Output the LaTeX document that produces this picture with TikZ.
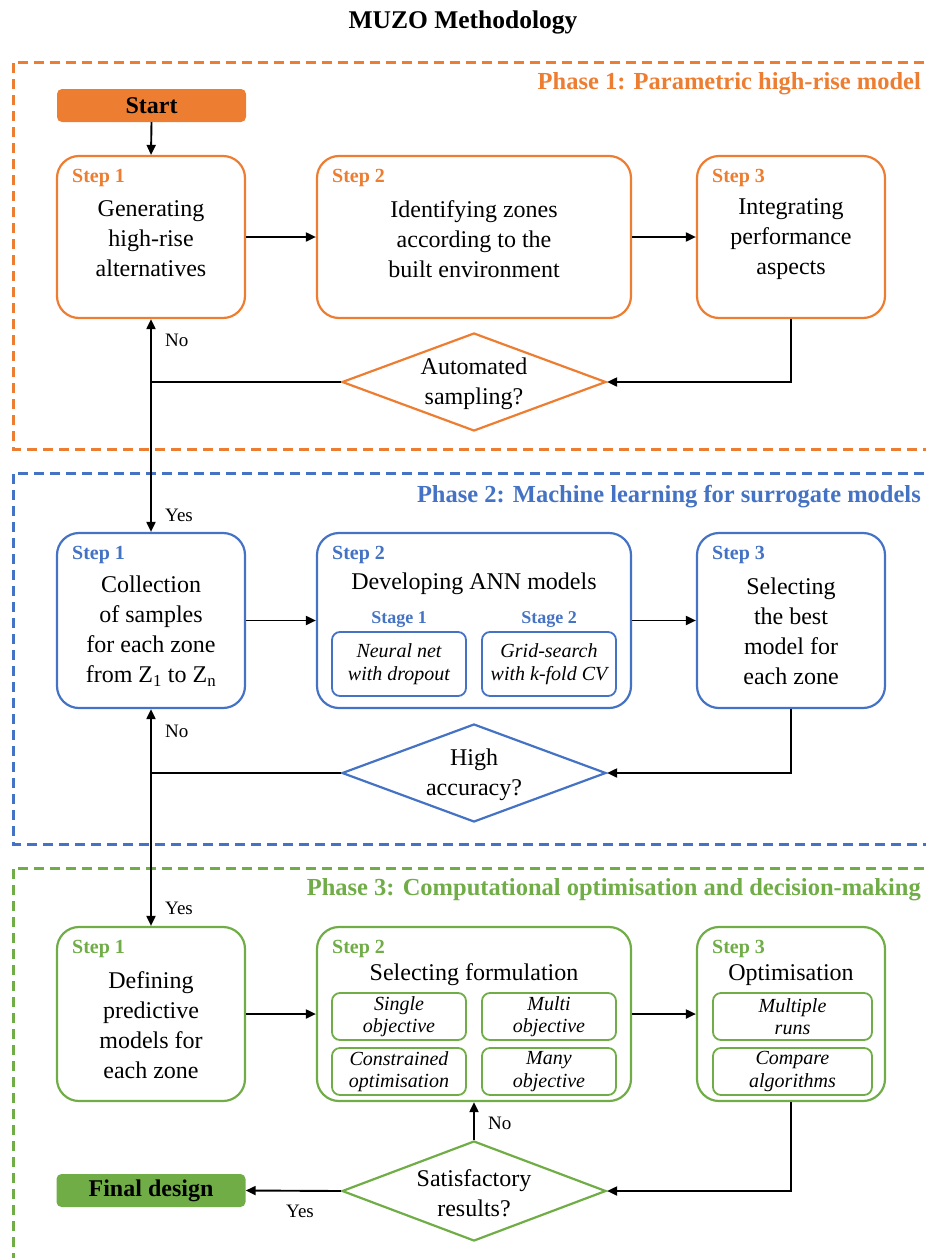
\documentclass[tikz,border=0pt]{standalone}
\usepackage{fontspec}
\setmainfont{Liberation Serif}
\usetikzlibrary{arrows.meta,shapes.geometric}
\definecolor{orng}{HTML}{ED7D31}
\definecolor{blu}{HTML}{4472C4}
\definecolor{grn}{HTML}{70AD47}
\begin{document}
\begin{tikzpicture}[x=1pt,y=-1pt,
  phasebox/.style={draw=#1, line width=3pt, dash pattern=on 10pt off 6pt},
  phaselabel/.style={text=#1, font=\fontsize{24.5}{28}\selectfont\bfseries, anchor=east, inner sep=0pt},
  stepbox/.style={draw=#1, line width=2.2pt, rounded corners=22pt, inner sep=0pt},
  steplabel/.style={text=#1, font=\fontsize{20}{24}\selectfont\bfseries, anchor=west, inner sep=0pt},
  stagelabel/.style={text=#1, font=\fontsize{18}{22}\selectfont\bfseries, inner sep=0pt},
  body/.style={font=\fontsize{24}{30}\selectfont, align=center, inner sep=0pt},
  subbox/.style={draw=#1, line width=1.8pt, rounded corners=8pt, inner sep=0pt,
     font=\fontsize{20}{22.5}\selectfont\itshape, align=center},
  decision/.style={draw=#1, line width=2.2pt, diamond, inner sep=0pt, aspect=2.7},
  endbox/.style={fill=#1, rounded corners=5pt, inner sep=0pt, minimum width=189pt,
     minimum height=33pt, font=\fontsize{24}{28}\selectfont\bfseries},
  lab/.style={font=\fontsize{19}{22}\selectfont, anchor=west, inner sep=0pt},
  arr/.style={draw=black, line width=1.9pt, -{Triangle[length=10pt,width=9pt]}},
  ln/.style={draw=black, line width=1.9pt}
]
\useasboundingbox (0,0) rectangle (926,1258);

% title
\node[font=\fontsize{25.5}{28}\selectfont\bfseries, inner sep=0pt] (title) at (463,22) {MUZO Methodology};

% phase frames
\draw[phasebox=orng] (940,62) -- (13,62) -- (13,449) -- (940,449);
\draw[phasebox=blu] (940,473) -- (13,473) -- (13,844) -- (940,844);
\draw[phasebox=grn] (940,868) -- (13,868) -- (13,1270);
\node[phaselabel=orng] (ph1) at (921,84) {Phase 1: Parametric high-rise model};
\node[phaselabel=blu] (ph2) at (921,497) {Phase 2: Machine learning for surrogate models};
\node[phaselabel=grn] (ph3) at (921,890) {Phase 3: Computational optimisation and decision-making};

% ---------- Phase 1
\node[endbox=orng] (start) at (151.5,105.5) {Start};
\node[stepbox=orng, minimum width=188pt, minimum height=162pt] (p1s1) at (151,237) {};
\node[stepbox=orng, minimum width=314pt, minimum height=162pt] (p1s2) at (474,237) {};
\node[stepbox=orng, minimum width=188pt, minimum height=162pt] (p1s3) at (791,237) {};
\node[steplabel=orng] (p1s1l) at (72,178) {Step 1};
\node[steplabel=orng] (p1s2l) at (332,178) {Step 2};
\node[steplabel=orng] (p1s3l) at (712,178) {Step 3};
\node[body] (p1s1t) at (151,239) {Generating\\high-rise\\alternatives};
\node[body] (p1s2t) at (474,239) {Identifying zones\\according to the\\built environment};
\node[body] (p1s3t) at (791,239) {Integrating\\performance\\aspects};
\node[decision=orng, minimum width=264pt, minimum height=98pt] (p1d) at (474,382) {};
\node[body] (p1dt) at (474,384) {Automated\\sampling?};
\coordinate (p1j) at (151,382);

% ---------- Phase 2
\node[stepbox=blu, minimum width=188pt, minimum height=175pt] (p2s1) at (151,620.5) {};
\node[stepbox=blu, minimum width=314pt, minimum height=175pt] (p2s2) at (474,620.5) {};
\node[stepbox=blu, minimum width=188pt, minimum height=175pt] (p2s3) at (791,620.5) {};
\node[steplabel=blu] (p2s1l) at (72,555) {Step 1};
\node[steplabel=blu] (p2s2l) at (332,555) {Step 2};
\node[steplabel=blu] (p2s3l) at (712,555) {Step 3};
\node[body] (p2s1t) at (151,631) {Collection\\of samples\\for each zone\\from Z\textsubscript{1} to Z\textsubscript{n}};
\node[body] (p2s2t) at (474,584) {Developing ANN models};
\node[body] (p2s3t) at (791,631) {Selecting\\the best\\model for\\each zone};
\node[stagelabel=blu] (st1l) at (399,620) {Stage 1};
\node[stagelabel=blu] (st2l) at (549,620) {Stage 2};
\node[subbox=blu, minimum width=134pt, minimum height=64pt] (st1) at (399,664) {Neural net\\with dropout};
\node[subbox=blu, minimum width=134pt, minimum height=64pt] (st2) at (549,664) {Grid-search\\with k-fold CV};
\node[decision=blu, minimum width=264pt, minimum height=98pt] (p2d) at (474,773) {};
\node[body] (p2dt) at (474,775) {High\\accuracy?};
\coordinate (p2j) at (151,773);

% ---------- Phase 3
\node[stepbox=grn, minimum width=188pt, minimum height=174pt] (p3s1) at (151,1014) {};
\node[stepbox=grn, minimum width=314pt, minimum height=174pt] (p3s2) at (474,1014) {};
\node[stepbox=grn, minimum width=188pt, minimum height=174pt] (p3s3) at (791,1014) {};
\node[steplabel=grn] (p3s1l) at (72,949) {Step 1};
\node[steplabel=grn] (p3s2l) at (332,949) {Step 2};
\node[steplabel=grn] (p3s3l) at (712,949) {Step 3};
\node[body] (p3s1t) at (151,1025) {Defining\\predictive\\models for\\each zone};
\node[body] (p3s2t) at (474,975) {Selecting formulation};
\node[body] (p3s3t) at (791,975) {Optimisation};
\node[subbox=grn, minimum width=134pt, minimum height=47pt] (f1) at (399,1016.5) {Single\\objective};
\node[subbox=grn, minimum width=134pt, minimum height=47pt] (f2) at (549,1016.5) {Multi\\objective};
\node[subbox=grn, minimum width=134pt, minimum height=47pt] (f3) at (399,1071.5) {Constrained\\optimisation};
\node[subbox=grn, minimum width=134pt, minimum height=47pt] (f4) at (549,1071.5) {Many\\objective};
\node[subbox=grn, minimum width=159pt, minimum height=47pt] (o1) at (792.5,1016.5) {Multiple\\runs};
\node[subbox=grn, minimum width=159pt, minimum height=47pt] (o2) at (792.5,1071.5) {Compare\\algorithms};
\node[decision=grn, minimum width=264pt, minimum height=100pt] (p3d) at (474,1191) {};
\node[body] (p3dt) at (474,1193) {Satisfactory\\results?};
\node[endbox=grn] (final) at (151,1190.5) {Final design};

% ---------- connectors
\draw[arr] (start.south) -- (p1s1.north);
\draw[arr] (p1s1.east) -- (p1s2.west);
\draw[arr] (p1s2.east) -- (p1s3.west);
\draw[arr] (p1s3.south) |- (p1d.east);
\draw[ln] (p1d.west) -- (p1j);
\draw[arr] (p1j) -- (p1s1.south);
\draw[arr] (p1j) -- (p2s1.north);
\node[lab] (no1) at (165,340) {No};
\node[lab] (yes1) at (165,515) {Yes};

\draw[arr] (p2s1.east) -- (p2s2.west);
\draw[arr] (p2s2.east) -- (p2s3.west);
\draw[arr] (p2s3.south) |- (p2d.east);
\draw[ln] (p2d.west) -- (p2j);
\draw[arr] (p2j) -- (p2s1.south);
\draw[arr] (p2j) -- (p3s1.north);
\node[lab] (no2) at (165,731) {No};
\node[lab] (yes2) at (165,908) {Yes};

\draw[arr] (p3s1.east) -- (p3s2.west);
\draw[arr] (p3s2.east) -- (p3s3.west);
\draw[arr] (p3s3.south) |- (p3d.east);
\draw[arr] (p3d.north) -- (p3s2.south);
\draw[arr] (p3d.west) -- (final.east);
\node[lab] (no3) at (488,1123) {No};
\node[lab] (yes3) at (286,1211) {Yes};
\end{tikzpicture}
\end{document}
